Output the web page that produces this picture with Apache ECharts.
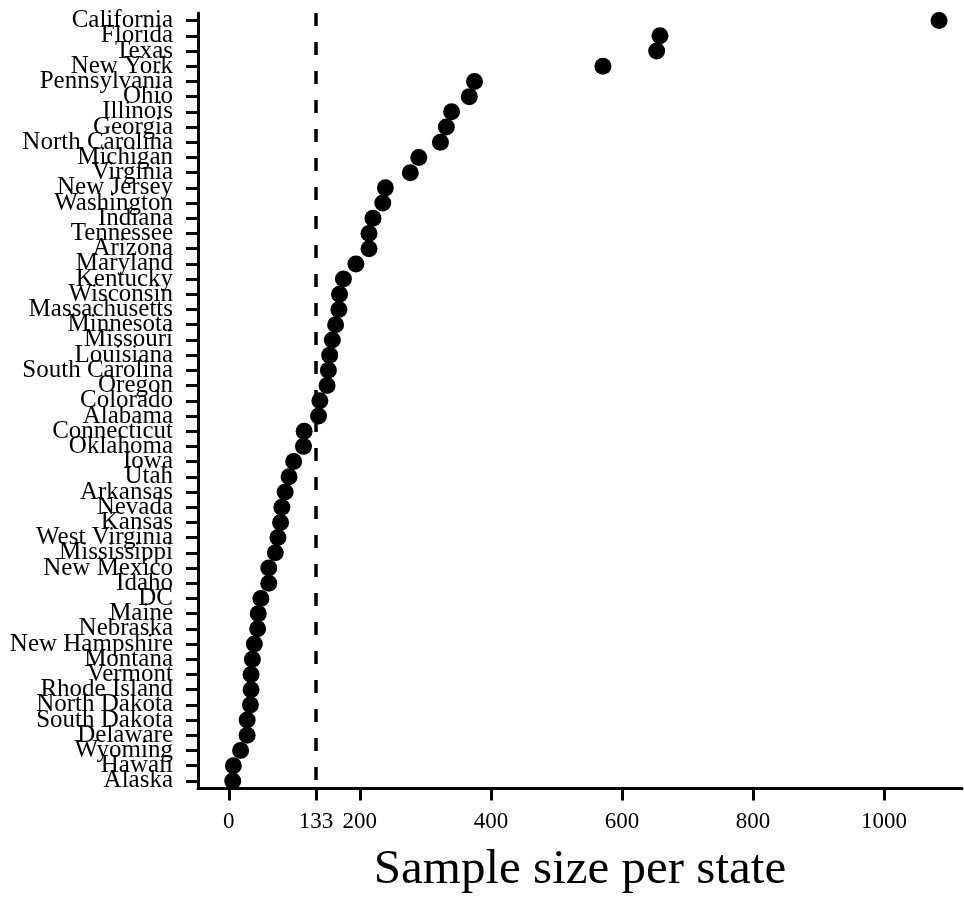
<!DOCTYPE html>
<html>
<head>
<meta charset="utf-8">
<style>html,body{margin:0;padding:0;background:#fff;}#chart{width:964px;height:897px;}</style>
<script src="https://cdn.jsdelivr.net/npm/echarts@6/dist/echarts.min.js"></script>
</head>
<body>
<div id="chart"></div>
<script>
const states = ["California","Florida","Texas","New York","Pennsylvania","Ohio","Illinois","Georgia","North Carolina","Michigan","Virginia","New Jersey","Washington","Indiana","Tennessee","Arizona","Maryland","Kentucky","Wisconsin","Massachusetts","Minnesota","Missouri","Louisiana","South Carolina","Oregon","Colorado","Alabama","Connecticut","Oklahoma","Iowa","Utah","Arkansas","Nevada","Kansas","West Virginia","Mississippi","New Mexico","Idaho","DC","Maine","Nebraska","New Hampshire","Montana","Vermont","Rhode Island","North Dakota","South Dakota","Delaware","Wyoming","Hawaii","Alaska"];
const sampleSize = [1084,658,653,571,375,367,340,332,323,290,277,239,235,220,214,214,194,175,169,168,163,158,154,152,150,139,137,115,114,99,92,86,81,79,75,71,61,61,49,45,44,39,36,34,34,33,28,28,18,7,6];
const xTicks = [0,133,200,400,600,800,1000];
const refLine = 133;
const xTitle = "Sample size per state";

const font = "Liberation Serif";
const chart = echarts.init(document.getElementById('chart'));
chart.setOption({
  animation: false,
  backgroundColor: '#fff',
  grid: {left: 198, right: 2, top: 13, bottom: 108.5, containLabel: false, outerBoundsMode: 'none'},
  xAxis: {
    type: 'value',
    min: -47, max: 1119,
    splitLine: {show: false},
    axisLine: {show: true, onZero: false, lineStyle: {color: '#000', width: 3}},
    axisTick: {show: true, customValues: xTicks, length: 12, lineStyle: {color: '#000', width: 3}},
    axisLabel: {customValues: xTicks, color: '#000', fontFamily: font, fontSize: 23, margin: 22,
      formatter: v => String(v)},
    name: xTitle, nameLocation: 'middle', nameGap: 57,
    nameTextStyle: {color: '#000', fontFamily: font, fontSize: 49}
  },
  yAxis: {
    type: 'category',
    data: states,
    inverse: true,
    boundaryGap: true,
    axisLine: {show: true, onZero: false, lineStyle: {color: '#000', width: 3}},
    axisTick: {show: true, alignWithLabel: true, interval: 0, length: 12, lineStyle: {color: '#000', width: 3}},
    axisLabel: {interval: 0, color: '#000', fontFamily: font, fontSize: 25, margin: 25},
    splitLine: {show: false}
  },
  series: [{
    type: 'scatter',
    data: sampleSize.map((v, i) => [v, states[i]]),
    symbol: 'circle',
    symbolSize: 17,
    itemStyle: {color: '#000', opacity: 1},
    markLine: {
      silent: true,
      symbol: ['none', 'none'],
      label: {show: false},
      lineStyle: {color: '#000', width: 3.5, type: [13, 16], opacity: 1},
      data: [{xAxis: refLine}]
    }
  }]
});
</script>
</body>
</html>
